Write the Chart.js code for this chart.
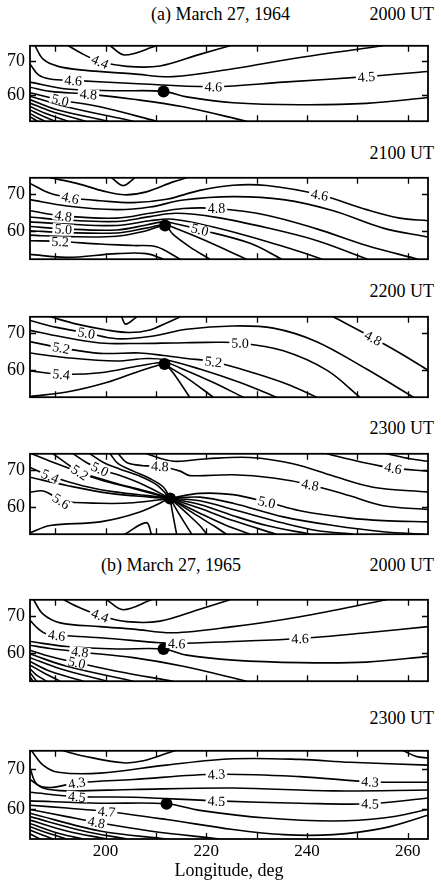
<!DOCTYPE html>
<html>
<head>
<meta charset="utf-8">
<script src="https://cdn.jsdelivr.net/npm/chart.js@4.4.0/dist/chart.umd.min.js"></script>
<style>
  body { margin: 0; background: #fff; width: 441px; height: 882px; position: relative; overflow: hidden; font-family: "Liberation Serif", "DejaVu Serif", serif; }
  canvas { position: absolute; left: 0; }
  .t { position: absolute; font-size: 18px; line-height: 18px; white-space: nowrap; color: #000; }
</style>
</head>
<body>
<div class="t" style="left:151px;top:5px">(a) March 27, 1964</div>
<div class="t" style="right:7px;top:5px">2000 UT</div>
<div class="t" style="right:7px;top:144px">2100 UT</div>
<div class="t" style="right:7px;top:282px">2200 UT</div>
<div class="t" style="right:7px;top:419px">2300 UT</div>
<div class="t" style="left:101px;top:556px">(b) March 27, 1965</div>
<div class="t" style="right:7px;top:556px">2000 UT</div>
<div class="t" style="right:7px;top:709px">2300 UT</div>
<script>
// axes
var lonRange = [185, 264];
var latRange = [52.5, 74.5];
var lonTicks = [190, 200, 210, 220, 230, 240, 250, 260];
var lonLabels = [200, 220, 240, 260];
var latTicks = [60, 70];

// (a) 1964, 2000 UT  -- contour lines as [lon, lat] points
var p1Lines = [
  [[186.0,74.5],[187.6,70.6],[190.6,68.5],[195.6,67.4],[205.5,66.3],[213.4,65.5],[225.3,67.8],[238.6,71.1],[255.0,74.5]],
  [[192.6,74.5],[195.6,72.0],[198.9,69.9],[204.2,68.5],[210.8,68.6],[218.7,72.0],[224.7,74.5]],
  [[200.9,74.5],[203.8,71.8],[210.1,74.5]],
  [[185,69.2],[186.7,66.0],[189.0,64.8],[193.6,64.4],[205.5,63.5],[221.4,62.6],[235.3,63.9],[251.8,65.5],[264,67.0]],
  [[185,63.9],[192.3,61.9],[202.2,61.4],[211.5,61.2],[216.1,59.6],[225.3,57.9],[238.6,57.3],[251.8,57.7],[264,59.4]],
  [[185,62.4],[189,61.2],[196.6,60.4],[205.5,58.9],[215.4,56.7],[228,52.5]],
  [[185,60.8],[191,58.7],[198.9,56.7],[210.1,52.5]],
  [[185,59.8],[192,56.8],[205.5,52.5]],
  [[185,58.8],[190,56.0],[200.5,52.5]],
  [[185,57.8],[189,55.5],[196,52.5]],
  [[185,56.8],[188,54.8],[192.5,52.5]],
  [[185,55.8],[187.5,54.0],[190,52.5]],
  [[185,54.8],[186.5,53.5],[188,52.5]],
  [[185,53.8],[186.5,52.5]]
];
var p1Labels = [['4.4',198.9,69.9],['4.6',193.6,64.4],['4.8',196.6,60.4],['5.0',191,58.7],['4.6',221.4,62.6],['4.5',251.8,65.5]];
var p1Station = [211.5, 61.2];

// 2100 UT
var p2Lines = [
  [[189,74.5],[194.3,73.0],[199.6,70.9],[203.8,69.9],[208.1,70.7],[213.4,73.4],[216.1,74.5]],
  [[201.2,74.5],[203.5,72.4],[205.8,74.5]],
  [[185,73.0],[189,70.3],[193,69.1],[198.9,68.3],[205.5,67.8],[212.1,68.7],[218.7,71.1],[225.3,72.5],[232,72.4],[242.5,69.9],[251.8,65.9],[258.4,63.6],[264,62.9]],
  [[185,68.6],[192.3,66.9],[202.2,65.9],[208.8,66.6],[215.4,68.5],[225.3,69.4],[235.3,68.6],[245.2,65.6],[255.1,60.9],[264,58.5]],
  [[185,65.6],[191.6,64.2],[202.2,63.6],[208.8,64.9],[215.4,66.2],[222,66.2],[232,64.4],[241.9,60.7],[251.8,56.2],[262,52.5]],
  [[185,63.9],[192,63.1],[202.2,62.7],[208.8,64.0],[214,64.9],[222,63.8],[232,61.0],[242,57.5],[252,52.5]],
  [[185,62.6],[192.3,62.0],[202.2,61.6],[208.8,62.9],[213.4,63.3],[222,61.0],[232,57.3],[238,54.8],[243,52.5]],
  [[185,61.35],[191.6,60.7],[202.2,60.4],[208.1,61.75],[211.5,62.6],[214.1,62.0],[218.7,60.5],[228.7,56.8],[235,52.5]],
  [[185,60.2],[192,59.7],[202.2,59.6],[208,60.9],[211.7,61.8],[214,60.8],[219,58.0],[228,52.5]],
  [[185,59.0],[192.3,58.6],[202.2,58.7],[208.1,60.2],[211.8,61.55],[213.4,59.2],[216.7,55.85],[220.7,52.5]],
  [[185,57.5],[191,57.3],[198.9,56.6],[205.5,56.2],[210.1,55.85],[214.8,52.5]],
  [[185,53.8],[192.3,53.0],[202.2,54.0],[208.1,54.0],[211.5,52.5]]
];
var p2Labels = [['4.6',193,69.1],['4.6',242.5,69.9],['4.8',191.6,64.2],['4.8',222,66.2],['5.0',191.6,60.7],['5.0',218.7,60.5],['5.2',191,57.3]];
var p2Station = [211.8, 61.6];

// 2200 UT
var p3Lines = [
  [[189,74.5],[194.3,72.5],[200.2,70.9],[204.8,70.2],[208.8,70.9],[212.1,72.8],[214.8,74.5]],
  [[203.2,74.5],[204.0,72.5],[206.2,74.5]],
  [[185,73.5],[190.3,71.6],[196.2,70.1],[202.2,68.5],[208.8,69.1],[216.1,71.1],[225.3,72.0],[233.3,71.4],[241.9,67.7],[251.8,60.2],[261.1,52.5]],
  [[185,70.8],[191,69.1],[198.9,67.35],[206.8,67.2],[213.4,67.35],[220.1,67.5],[226.7,67.35],[235.3,65.2],[243.9,59.9],[250.5,52.5]],
  [[185,67.7],[191.2,66.0],[198.9,64.5],[206.8,64.6],[211.5,63.9],[216.1,63.1],[221.4,62.2],[229.3,59.2],[236.6,55.8],[241.9,52.5]],
  [[185,64.6],[192.3,63.3],[202.2,62.4],[208.1,63.1],[212.1,62.7],[218.7,60.2],[226.7,56.5],[233.9,52.5]],
  [[185,59.7],[191.2,58.8],[198.9,59.2],[206.8,61.1],[211.7,62.0],[214.8,60.5],[221.4,56.5],[227.3,52.5]],
  [[185,52.7],[192.3,53.9],[200.2,56.5],[206.8,59.7],[210.8,61.4],[211.7,61.6],[213.4,59.2],[216.7,52.5]],
  [[212.1,61.2],[216.1,57.8],[221.4,52.5]],
  [[245.2,74.5],[253.1,68.7],[258.4,64.6],[264,59.9]]
];
var p3Labels = [['5.0',196.2,70.1],['5.0',226.7,67.35],['5.2',191.2,66.0],['5.2',221.4,62.2],['5.4',191.2,58.8],['4.8',253.1,68.7]];
var p3Station = [211.7, 61.6];

// 2300 UT
var p4Lines = [
  [[255.8,74.5],[260.4,73.15],[264,72.47]],
  [[243.9,74.5],[250.5,72.33],[257.1,70.57],[264,69.76]],
  [[208.1,74.5],[213.4,72.47],[220.1,73.15],[228.7,73.48],[237.2,71.79],[245.2,68.41],[253.1,65.36],[264,64.01]],
  [[202.5,74.5],[204.2,72.13],[207.5,71.25],[210.8,71.11],[214.8,69.76],[216.7,68.54],[225.3,68.75],[233.3,67.87],[240.6,66.04],[248.5,63.0],[255.1,60.3],[264,59.27]],
  [[185.3,74.5],[189,72.47],[195.6,69.08],[202.2,66.38],[208.8,64.01],[212.8,62.31]],
  [[185,70.78],[189,68.41],[195.6,65.7],[202.2,64.01],[208.8,62.99],[212.8,62.31]],
  [[185,68.07],[192.3,65.84],[200.9,63.67],[208.8,62.65],[212.8,62.31]],
  [[185,64.01],[187.6,64.34],[189.6,62.99],[191.2,61.57],[198.9,60.96],[205.5,61.1],[212.8,62.31]],
  [[189.6,74.5],[192.3,71.79],[194.9,69.42],[198.9,67.39],[205.5,65.02],[212.8,62.31]],
  [[193.6,74.5],[196.2,72.13],[198.9,70.3],[202.9,68.54],[207.5,66.04],[212.8,62.31]],
  [[196.9,74.5],[199.6,72.13],[202.9,70.3],[206.8,68.41],[210.1,66.04],[212.8,62.31]],
  [[200.9,74.5],[202.5,71.79],[205.5,69.76],[208.8,67.73],[211.5,65.36],[212.8,62.31]],
  [[185,52.84],[189,54.87],[198.9,55.88],[206.8,58.59],[212.8,62.31]],
  [[203.8,52.5],[208.1,55.68],[209.1,52.5]],
  [[212.8,62.31],[218.7,63.67],[225.3,63.33],[232,61.3],[238.6,58.93],[248.5,56.9],[255.1,56.22],[264,55.88]],
  [[212.8,62.31],[218.7,62.65],[225.3,60.96],[235.3,57.24],[245.2,54.87],[255.1,53.17],[263.4,52.5]],
  [[212.8,62.31],[218.7,61.64],[225.3,59.27],[235.3,55.54],[241.9,53.51],[249.2,52.5]],
  [[212.8,62.31],[218.7,60.62],[225.3,57.57],[232,54.87],[240.6,52.5]],
  [[212.8,62.31],[218.7,59.61],[225.3,56.22],[233.9,52.5]],
  [[212.8,62.31],[218.7,58.25],[224,54.87],[228.7,52.5]],
  [[212.8,62.31],[217.4,58.25],[221.4,54.87],[224,52.5]],
  [[212.8,62.31],[216.1,58.25],[218.7,54.87],[220.1,52.5]],
  [[212.8,62.31],[214.8,57.57],[217.1,52.5]],
  [[212.8,62.31],[213.4,57.57],[214.1,52.5]]
];
var p4Labels = [['5.0',198.9,70.3],['4.8',210.8,71.11],['5.2',194.9,69.42],['5.4',189,68.41],['5.6',191.2,61.57],['4.6',257.1,70.57],['4.8',240.6,66.04],['5.0',232,61.3]];
var p4Station = [212.8, 62.3];

// (b) 1965, 2000 UT
var p5Lines = [
  [[185.7,74.5],[187.6,70.61],[191,68.26],[198.9,67.25],[205.5,66.58],[213.4,65.58],[225.3,67.25],[238.6,69.94],[255.8,74.5]],
  [[191.7,74.5],[195,72.29],[198.9,70.27],[204.2,68.6],[210.8,68.73],[218.7,71.95],[224.7,74.5]],
  [[200.2,74.5],[203.5,71.82],[209.1,74.5]],
  [[185,68.93],[186.7,66.58],[188.3,65.24],[190.3,64.9],[198.9,64.23],[210.8,62.89],[214.1,62.69],[225.3,63.23],[238.6,64.03],[251.8,65.58],[264,67.25]],
  [[185,63.23],[192.3,61.89],[202.2,61.21],[211.5,61.21],[216.1,59.54],[225.3,58.2],[238.6,57.52],[251.8,57.66],[264,59.2]],
  [[185,62.22],[189,61.35],[194.9,60.41],[205.5,58.87],[215.4,56.52],[228,52.5]],
  [[185,60.88],[189,59.2],[194.3,57.52],[202.2,55.18],[213.4,52.5]],
  [[185,59.87],[192.3,56.52],[205.5,52.5]],
  [[185,58.87],[191,55.85],[200.2,52.5]],
  [[185,57.86],[189,55.18],[195.6,52.5]],
  [[185,56.85],[187.6,54.84],[191,52.5]],
  [[185,55.85],[186.3,54.17],[188.3,52.5]],
  [[185,54.84],[186.3,52.5]],
  [[185,53.7],[185.6,52.5]]
];
var p5Labels = [['4.4',198.9,70.27],['4.6',190.3,64.9],['4.8',194.9,60.41],['5.0',194.3,57.52],['4.6',214.1,62.69],['4.6',238.6,64.03]];
var p5Station = [211.5, 61.2];

// 2300 UT
var p6Lines = [
  [[259.1,74.5],[261.7,73.07],[264,72.72]],
  [[191.6,74.5],[195.6,73.21],[203.5,71.5],[207.5,72.0],[212.8,74.14],[213.8,74.5]],
  [[185.3,74.5],[187.6,70.93],[190.6,69.15],[198.9,68.93],[212.1,70.93],[225.3,72.5],[238.6,72.36],[248.5,71.64],[264,70.93]],
  [[185,70.22],[186.3,66.29],[189,65.36],[194.3,66.5],[205.5,67.36],[222,68.65],[238.6,68.07],[252.5,66.79],[264,66.65]],
  [[185,67.36],[187.6,65.22],[192.3,64.5],[205.5,64.86],[225.3,65.22],[245.2,64.5],[264,64.72]],
  [[185,64.15],[194.3,63.08],[205.5,62.93],[222,62.0],[238.6,61.43],[252.5,61.29],[264,62.72]],
  [[185,62.0],[198.9,61.43],[212.1,61.29],[218.7,59.65],[232,57.72],[245.2,57.0],[255.1,57.72],[264,59.86]],
  [[185,60.93],[192.3,60.22],[200.2,59.36],[212.1,57.36],[225.3,54.86],[235.3,53.58],[245.2,53.58],[255.1,55.22],[264,58.44]],
  [[185,59.86],[192.3,58.08],[198.2,56.65],[208.8,54.51],[222.7,52.5]],
  [[185,58.93],[198.9,54.51],[212.1,52.5]],
  [[185,58.08],[195.6,54.51],[204.2,52.5]],
  [[185,57.22],[192.3,54.51],[200.2,52.5]],
  [[185,56.36],[191,53.79],[195.6,52.5]],
  [[185,55.58],[189,53.79],[192.3,52.5]],
  [[185,54.72],[187.6,53.44],[189.6,52.5]],
  [[185,53.79],[187,52.5]]
];
var p6Labels = [['4.3',194.3,66.5],['4.3',222,68.65],['4.3',252.5,66.79],['4.5',194.3,63.08],['4.5',222,62.0],['4.5',252.5,61.29],['4.7',200.2,59.36],['4.8',198.2,56.65]];
var p6Station = [212.1, 61.3];

var panels = [
  { lines: p1Lines, labels: p1Labels, station: p1Station, top: 32, bottom: 135 },
  { lines: p2Lines, labels: p2Labels, station: p2Station, top: 164, bottom: 273 },
  { lines: p3Lines, labels: p3Labels, station: p3Station, top: 303, bottom: 411 },
  { lines: p4Lines, labels: p4Labels, station: p4Station, top: 440, bottom: 548 },
  { lines: p5Lines, labels: p5Labels, station: p5Station, top: 586, bottom: 695 },
  { lines: p6Lines, labels: p6Labels, station: p6Station, top: 737, bottom: 839, axis: true }
];

var serif = '"Liberation Serif", "DejaVu Serif", serif';

// box with inward tick marks on all four sides
var framePlugin = {
  id: 'frame',
  afterDatasetsDraw: function(chart) {
    var ctx = chart.ctx, a = chart.chartArea, x = chart.scales.x, y = chart.scales.y;
    ctx.save();
    ctx.strokeStyle = '#000';
    ctx.lineWidth = 1.8;
    ctx.strokeRect(a.left, a.top, a.right - a.left, a.bottom - a.top);
    ctx.lineWidth = 1.3;
    ctx.beginPath();
    lonTicks.forEach(function(v) {
      var px = Math.round(x.getPixelForValue(v)) + 0.5;
      ctx.moveTo(px, a.top); ctx.lineTo(px, a.top + 6);
      ctx.moveTo(px, a.bottom); ctx.lineTo(px, a.bottom - 6);
    });
    latTicks.forEach(function(v) {
      var py = Math.round(y.getPixelForValue(v)) + 0.5;
      ctx.moveTo(a.left, py); ctx.lineTo(a.left + 6, py);
      ctx.moveTo(a.right, py); ctx.lineTo(a.right - 6, py);
    });
    ctx.stroke();
    ctx.restore();
  }
};

function segDist(px, py, ax, ay, bx, by) {
  var dx = bx - ax, dy = by - ay;
  var t = ((px - ax) * dx + (py - ay) * dy) / (dx * dx + dy * dy || 1);
  t = Math.max(0, Math.min(1, t));
  var qx = ax + t * dx - px, qy = ay + t * dy - py;
  return Math.sqrt(qx * qx + qy * qy);
}

// contour values written along the lines, in a white gap
var labelPlugin = {
  id: 'contourLabels',
  afterDatasetsDraw: function(chart, args, opts) {
    var ctx = chart.ctx, x = chart.scales.x, y = chart.scales.y;
    var segs = [];
    chart.data.datasets.forEach(function(ds) {
      if (!ds.contour) return;
      for (var i = 1; i < ds.data.length; i++) {
        segs.push([x.getPixelForValue(ds.data[i - 1].x), y.getPixelForValue(ds.data[i - 1].y),
                   x.getPixelForValue(ds.data[i].x), y.getPixelForValue(ds.data[i].y)]);
      }
    });
    ctx.save();
    ctx.font = '14px ' + serif;
    ctx.textAlign = 'center';
    ctx.textBaseline = 'middle';
    (opts.items || []).forEach(function(lb) {
      var px = x.getPixelForValue(lb[1]), py = y.getPixelForValue(lb[2]);
      var best = Infinity, ang = 0;
      segs.forEach(function(s) {
        var d = segDist(px, py, s[0], s[1], s[2], s[3]);
        if (d < best) { best = d; ang = Math.atan2(s[3] - s[1], s[2] - s[0]); }
      });
      if (ang > Math.PI / 2) ang -= Math.PI;
      if (ang < -Math.PI / 2) ang += Math.PI;
      var w = ctx.measureText(lb[0]).width + 4;
      ctx.save();
      ctx.translate(px, py);
      ctx.rotate(ang);
      ctx.fillStyle = '#fff';
      ctx.fillRect(-w / 2, -5, w, 10);
      ctx.fillStyle = '#000';
      ctx.fillText(lb[0], 0, 1);
      ctx.restore();
    });
    ctx.restore();
  }
};

panels.forEach(function(p) {
  var cv = document.createElement('canvas');
  var h = p.bottom - p.top;
  cv.width = 441;
  cv.height = h + 2 + (p.axis ? 44 : 2);
  cv.style.top = (p.top - 2) + 'px';
  document.body.appendChild(cv);

  var datasets = [{
    data: [{ x: p.station[0], y: p.station[1] }],
    showLine: false,
    pointRadius: 6,
    pointBackgroundColor: '#000',
    pointBorderWidth: 0
  }];
  p.lines.forEach(function(line) {
    datasets.push({
      contour: true,
      data: line.map(function(pt) { return { x: pt[0], y: pt[1] }; }),
      showLine: true,
      borderColor: '#000',
      borderWidth: 1.6,
      pointRadius: 0,
      tension: 0.35
    });
  });

  new Chart(cv.getContext('2d'), {
    type: 'scatter',
    data: { datasets: datasets },
    options: {
      responsive: false,
      animation: false,
      devicePixelRatio: 1,
      events: [],
      layout: { padding: { left: 0, right: 13, top: 2, bottom: p.axis ? 0 : 2 } },
      plugins: {
        legend: { display: false },
        tooltip: { enabled: false },
        contourLabels: { items: p.labels }
      },
      scales: {
        x: {
          type: 'linear',
          min: lonRange[0],
          max: lonRange[1],
          display: !!p.axis,
          grid: { drawOnChartArea: false, drawTicks: false },
          border: { display: false },
          afterBuildTicks: function(s) { s.ticks = lonLabels.map(function(v) { return { value: v }; }); },
          afterFit: function(s) { if (p.axis) s.height = 44; },
          ticks: { color: '#000', padding: 2, maxRotation: 0, font: { family: serif, size: 17 } },
          title: { display: true, text: 'Longitude, deg', color: '#000', padding: { top: 0, bottom: 1 }, font: { family: serif, size: 18 } }
        },
        y: {
          type: 'linear',
          min: latRange[0],
          max: latRange[1],
          grid: { drawOnChartArea: false, drawTicks: false },
          border: { display: false },
          afterBuildTicks: function(s) { s.ticks = latTicks.map(function(v) { return { value: v }; }); },
          afterFit: function(s) { s.width = 30; },
          ticks: { color: '#000', padding: 5, font: { family: serif, size: 18 } }
        }
      }
    },
    plugins: [framePlugin, labelPlugin]
  });
});
</script>
</body>
</html>
